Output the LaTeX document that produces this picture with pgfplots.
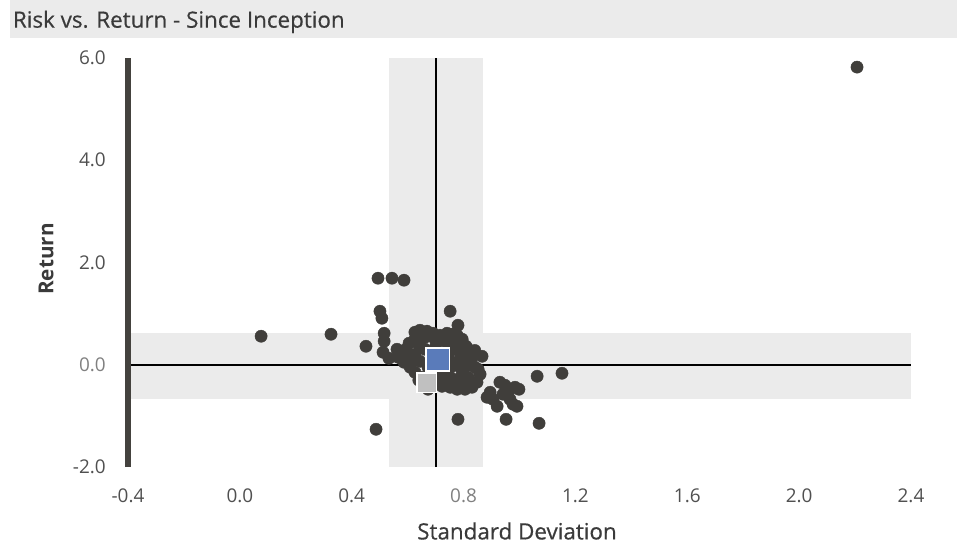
\documentclass[border=0pt]{standalone}
\usepackage{fontspec}
\setmainfont{Open Sans}
\newfontfamily\medfont{Open Sans}[FakeBold=0.5]
\usepackage{pgfplots}
\pgfplotsset{compat=1.18}

\definecolor{bandgray}{HTML}{EBEBEB}
\definecolor{dotgray}{HTML}{403E3B}
\definecolor{axisdark}{HTML}{44423E}
\definecolor{ticklabel}{HTML}{505050}
\definecolor{ticklight}{HTML}{808080}
\definecolor{labelgray}{HTML}{3A3A3A}
\definecolor{fundblue}{HTML}{5A7BBA}
\definecolor{benchgray}{HTML}{C0C0C0}

\begin{document}
\begin{tikzpicture}
% 1 px of the 957x547 reference = 0.75pt
\useasboundingbox (0,0) rectangle (717.75pt,410.25pt);

% title bar
\fill[bandgray] (7.5pt,381.75pt) rectangle (717.75pt,410.25pt);
\node[anchor=base west, inner sep=0pt, text=labelgray,
      font=\medfont\fontsize{16.8}{19}\selectfont] at (9.5pt,389.5pt) {Risk vs. Return - Since Inception};

\begin{axis}[
    at={(96pt,60pt)}, anchor=south west,
    width=587.25pt, height=306.75pt,
    scale only axis,
    xmin=-0.4, xmax=2.4,
    ymin=-2, ymax=6,
    axis line style={draw=none},
    major tick length=0pt,
    xtick={-0.4,0,0.4,0.8,1.2,1.6,2.0,2.4},
    xticklabels={-0.4,0.0,0.4,\textcolor{ticklight}{0.8},1.2,1.6,2.0,2.4},
    ytick={-2,0,2,4,6},
    yticklabels={-2.0,\textcolor{ticklight}{0.0},2.0,4.0,6.0},
    ticklabel style={font=\fontsize{14.2}{16}\selectfont, text=ticklabel, inner sep=0pt},
    xticklabel style={anchor=center, yshift=-21.75pt},
    yticklabel style={anchor=east, xshift=-16.5pt},
    clip=false,
]

% +/- one std bands
\addplot[fill=bandgray, draw=none] coordinates {
    (0.533,-2) (0.870,-2) (0.870,6) (0.533,6)} -- cycle;
\addplot[fill=bandgray, draw=none] coordinates {
    (-0.4,-0.675) (2.4,-0.675) (2.4,0.616) (-0.4,0.616)} -- cycle;

% peer universe
\addplot[only marks, mark=*, mark size=4.6pt,
         mark options={fill=dotgray, draw=dotgray, line width=0.3pt}] coordinates {
    (2.207,5.822) (0.076,0.558) (0.326,0.597) (0.451,0.362)
    (0.494,1.693) (0.544,1.693) (0.587,1.654) (0.501,1.047)
    (0.508,0.910) (0.516,0.616) (0.516,0.460) (0.512,0.245)
    (0.533,0.127) (0.580,0.108) (0.752,1.047) (0.780,0.773)
    (0.866,0.166) (1.063,-0.225) (1.152,-0.166) (0.780,-1.067)
    (0.952,-1.067) (1.070,-1.145) (0.487,-1.262) (0.673,-0.479)
    (0.626,0.636) (0.644,0.675) (0.669,0.656) (0.691,0.616)
    (0.716,0.577) (0.741,0.616) (0.759,0.597) (0.777,0.577)
    (0.795,0.499) (0.809,0.362) (0.798,0.264) (0.773,0.401)
    (0.734,0.460) (0.698,0.499) (0.662,0.538) (0.626,0.499)
    (0.605,0.421) (0.594,0.303) (0.576,0.186) (0.562,0.303)
    (0.566,0.147) (0.587,0.049) (0.609,-0.049) (0.626,-0.147)
    (0.651,-0.245) (0.673,-0.342) (0.698,-0.382) (0.723,-0.421)
    (0.752,-0.440) (0.777,-0.479) (0.805,-0.479) (0.830,-0.440)
    (0.848,-0.342) (0.859,-0.186) (0.841,-0.049) (0.823,0.068)
    (0.809,0.166) (0.787,0.068) (0.759,-0.029) (0.734,-0.186)
    (0.716,-0.284) (0.698,-0.127) (0.673,-0.049) (0.644,0.068)
    (0.626,0.205) (0.662,0.303) (0.687,0.186) (0.745,0.205)
    (0.770,0.303) (0.795,-0.127) (0.816,-0.245) (0.780,-0.284)
    (0.752,-0.245) (0.812,0.245) (0.830,0.147) (0.816,-0.010)
    (0.852,-0.088) (0.640,0.400) (0.700,0.350) (0.760,0.420)
    (0.610,0.150) (0.640,-0.300) (0.730,-0.350) (0.790,-0.380)
    (0.840,0.280) (0.680,0.050) (0.760,0.050) (0.790,0.200)
    (0.884,-0.636) (0.895,-0.538) (0.905,-0.675) (0.920,-0.812)
    (0.930,-0.342) (0.948,-0.401) (0.941,-0.577) (0.959,-0.538)
    (0.977,-0.773) (0.991,-0.812) (0.984,-0.440) (0.998,-0.479)
    (0.966,-0.675)
};

% benchmark and fund
\addplot[only marks, mark=square*, mark size=7.3pt,
         mark options={fill=benchgray, draw=white, line width=1.2pt}] coordinates {
    (0.669,-0.352)};
\addplot[only marks, mark=square*, mark size=8.8pt,
         mark options={fill=fundblue, draw=white, line width=1.2pt}] coordinates {
    (0.708,0.102)};

% reference lines and left axis
\addplot[black, line width=1.5pt] coordinates {(-0.4,0) (2.4,0)};
\addplot[black, line width=1.5pt] coordinates {(0.702,-2) (0.702,6)};
\addplot[axisdark, line width=4.5pt] coordinates {(-0.4,-2) (-0.4,6)};

\end{axis}

\node[rotate=90, text=labelgray, font=\bfseries\fontsize{15.5}{18}\selectfont]
    at (34.5pt,216pt) {Return};
\node[text=labelgray, font=\medfont\fontsize{16.8}{19}\selectfont]
    at (387.75pt,12pt) {Standard Deviation};
\end{tikzpicture}
\end{document}
